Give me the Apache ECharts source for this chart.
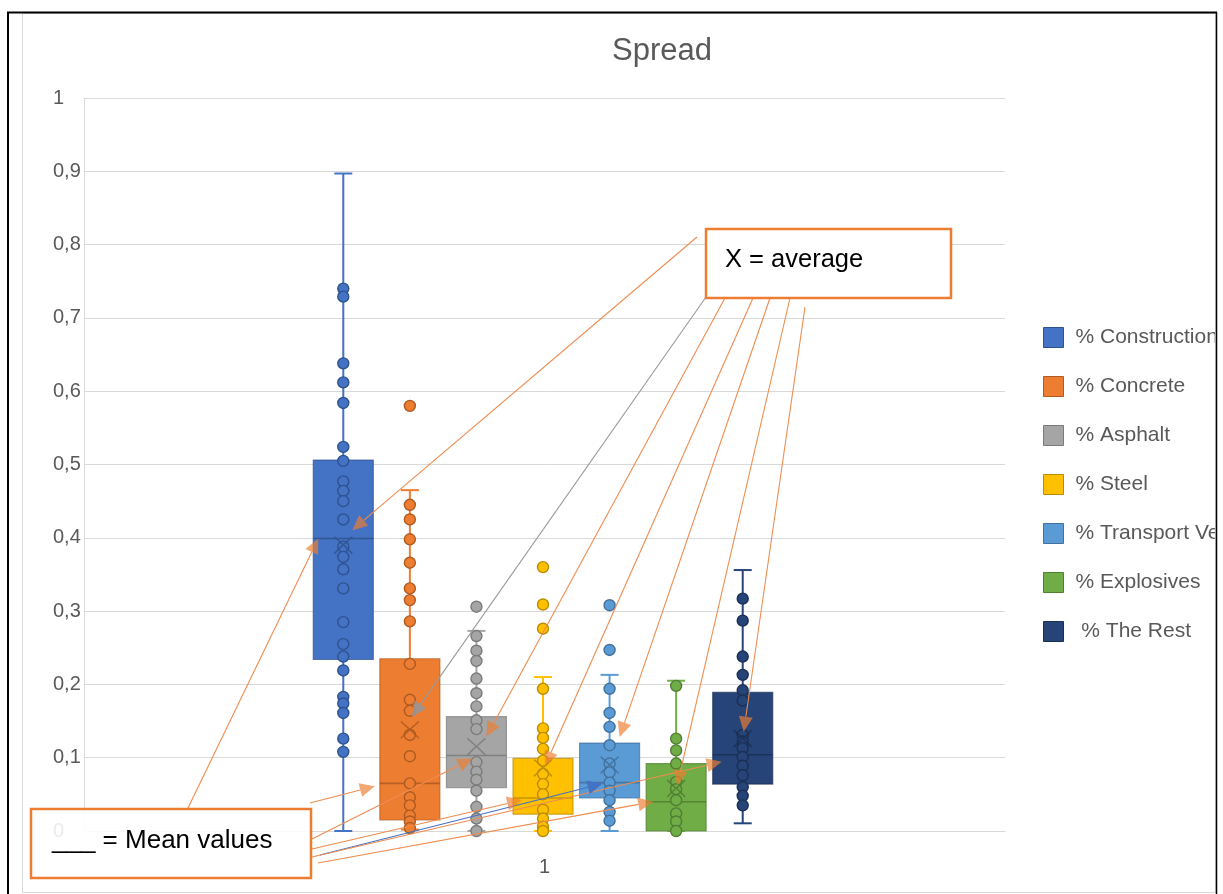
<!DOCTYPE html>
<html><head><meta charset="utf-8">
<script src="https://cdn.jsdelivr.net/npm/echarts@6/dist/echarts.min.js"></script>
<style>html,body{margin:0;padding:0;background:#fff}#c{width:1223px;height:894px}</style>
</head><body><div id="c"></div>
<script>
// ---------------- data ----------------
const xCategory = ['1'];
const categories = ['% Construction', '% Concrete', '% Asphalt', '% Steel', '% Transport Vehicles', '% Explosives', ' % The Rest'];
const yTickLabels = ['0', '0,1', '0,2', '0,3', '0,4', '0,5', '0,6', '0,7', '0,8', '0,9', '1'];

const whiskerMin = [0, 0.002, 0, 0, 0, 0, 0.0105];
const quartile1  = [0.234, 0.015, 0.059, 0.023, 0.045, 0, 0.064];
const medians    = [0.399, 0.065, 0.103, 0.045, 0.066, 0.040, 0.104];
const quartile3  = [0.506, 0.235, 0.156, 0.099, 0.120, 0.092, 0.189];
const whiskerMax = [0.897, 0.465, 0.273, 0.210, 0.213, 0.205, 0.356];
const means      = [0.390, 0.138, 0.115, 0.086, 0.090, 0.058, 0.126];

const ptsConstruction = [0.740, 0.729, 0.638, 0.612, 0.584, 0.524, 0.505, 0.477, 0.464, 0.450, 0.425, 0.388, 0.374, 0.357, 0.331, 0.285, 0.255, 0.238, 0.219, 0.183, 0.174, 0.161, 0.126, 0.108];
const ptsConcrete = [0.580, 0.445, 0.425, 0.398, 0.366, 0.331, 0.315, 0.286, 0.228, 0.179, 0.164, 0.131, 0.102, 0.065, 0.046, 0.035, 0.021, 0.013, 0.004];
const ptsAsphalt = [0.306, 0.266, 0.246, 0.232, 0.208, 0.188, 0.170, 0.151, 0.139, 0.094, 0.081, 0.070, 0.055, 0.033, 0.017, 0];
const ptsSteel = [0.360, 0.309, 0.276, 0.194, 0.140, 0.127, 0.112, 0.096, 0.078, 0.064, 0.050, 0.029, 0.017, 0.006, 0];
const ptsTransport = [0.308, 0.247, 0.194, 0.161, 0.142, 0.117, 0.092, 0.080, 0.066, 0.055, 0.042, 0.026, 0.014];
const ptsExplosives = [0.198, 0.126, 0.110, 0.092, 0.067, 0.057, 0.042, 0.024, 0.013, 0];
const ptsRest = [0.317, 0.287, 0.238, 0.213, 0.192, 0.178, 0.131, 0.122, 0.113, 0.101, 0.089, 0.076, 0.060, 0.048, 0.035];
const points = [ptsConstruction, ptsConcrete, ptsAsphalt, ptsSteel, ptsTransport, ptsExplosives, ptsRest];

// ---------------- styles ----------------
const palette = ['#4472C4', '#ED7D31', '#A5A5A5', '#FFC000', '#5B9BD5', '#70AD47', '#264478'];
const darks   = ['#2F528F', '#AE5A21', '#7B7B7B', '#BC8C00', '#41719C', '#507E32', '#1A2F54'];
const FONT = '"Liberation Sans", Arial, sans-serif';
const TXT = '#595959';
const GRIDC = '#D9D9D9';

const chart = echarts.init(document.getElementById('c'), null, {renderer: 'canvas'});

function makeRender(i) {
  return function (params, api) {
    const x = api.value(0);
    const p = k => api.coord([x, api.value(k)]);
    const pMin = p(1), pQ1 = p(2), pMed = p(3), pQ3 = p(4), pMax = p(5);
    const cx = pMin[0], bw = 60, cw = 9;
    const ls = {stroke: palette[i], lineWidth: 2};
    return {type: 'group', children: [
      {type: 'line', shape: {x1: cx, y1: pMax[1], x2: cx, y2: pQ3[1]}, style: ls},
      {type: 'line', shape: {x1: cx, y1: pQ1[1], x2: cx, y2: pMin[1]}, style: ls},
      {type: 'line', shape: {x1: cx - cw, y1: pMax[1], x2: cx + cw, y2: pMax[1]}, style: ls},
      {type: 'line', shape: {x1: cx - cw, y1: pMin[1], x2: cx + cw, y2: pMin[1]}, style: ls},
      {type: 'rect', shape: {x: cx - bw / 2, y: pQ3[1], width: bw, height: Math.max(pQ1[1] - pQ3[1], 0)},
        style: {fill: palette[i], stroke: darks[i], lineWidth: 1.2, strokeOpacity: 0.7}},
      {type: 'line', shape: {x1: cx - bw / 2, y1: pMed[1], x2: cx + bw / 2, y2: pMed[1]},
        style: {stroke: darks[i], lineWidth: 1.6, opacity: 0.85}}
    ]};
  };
}

const xPath = 'path://M1,0 L10,8.6 L19,0 L20,1.3 L11.3,9.6 L20,18.7 L19,20 L10,10.6 L1,20 L0,18.7 L8.7,9.6 L0,1.3 Z';

const series = [];
categories.forEach((name, i) => {
  series.push({
    type: 'custom', name, xAxisIndex: 1, yAxisIndex: 1, z: 2, silent: true,
    itemStyle: {color: palette[i]},
    encode: {x: 0, y: [1, 2, 3, 4, 5]},
    data: [[i, whiskerMin[i], quartile1[i], medians[i], quartile3[i], whiskerMax[i]]],
    renderItem: makeRender(i)
  });
  series.push({
    type: 'scatter', name, xAxisIndex: 1, yAxisIndex: 1, z: 3, silent: true, clip: true,
    symbol: 'circle', symbolSize: 11,
    itemStyle: {color: palette[i], borderColor: darks[i], borderWidth: 1.4, opacity: 1},
    data: points[i].map(v => [i, v])
  });
  series.push({
    type: 'scatter', name, xAxisIndex: 1, yAxisIndex: 1, z: 4, silent: true,
    symbol: xPath, symbolSize: [19, 18],
    itemStyle: {color: darks[i], opacity: 0.85},
    data: [[i, means[i]]]
  });
});

const option = {
  backgroundColor: '#fff',
  animation: false,
  title: {
    text: 'Spread', left: 657, top: 31, textAlign: 'center',
    textStyle: {fontFamily: FONT, fontSize: 31, fontWeight: 'normal', color: TXT}
  },
  legend: {
    orient: 'vertical', left: 1043, top: 327, padding: 0,
    itemWidth: 20, itemHeight: 20, itemGap: 28, selectedMode: false,
    textStyle: {fontFamily: FONT, fontSize: 21, lineHeight: 20, color: TXT, padding: [0, 0, 0, 7]},
    data: categories.map((n, i) => ({name: n, icon: 'rect',
      itemStyle: {color: palette[i], borderColor: darks[i], borderWidth: 1}}))
  },
  grid: [
    {left: 84, top: 98, width: 921, height: 733, containLabel: false},
    {left: 310, top: 98, width: 466, height: 733, containLabel: false}
  ],
  xAxis: [
    {type: 'category', gridIndex: 0, data: xCategory,
      axisLine: {lineStyle: {color: GRIDC, width: 1}}, axisTick: {show: false},
      axisLabel: {color: TXT, fontFamily: FONT, fontSize: 20, margin: 26}},
    {type: 'category', gridIndex: 1, data: categories, show: false}
  ],
  yAxis: [
    {type: 'value', gridIndex: 0, min: 0, max: 1, interval: 0.1,
      axisLine: {show: true, lineStyle: {color: GRIDC}}, axisTick: {show: false},
      splitLine: {lineStyle: {color: GRIDC, width: 1}},
      axisLabel: {color: TXT, fontFamily: FONT, fontSize: 20, align: 'left', margin: 31,
        formatter: v => yTickLabels[Math.round(v * 10)]}},
    {type: 'value', gridIndex: 1, min: 0, max: 1, show: false}
  ],
  series
};
chart.setOption(option);

// ---------------- annotations ----------------
const ORANGE_LINE = '#EF8C4F';
const ORANGE_HEAD = 'rgba(237,125,49,0.68)';
const statOf = {mean: means, median: medians};
// start points (px) of the callout lines; targets come from the data
const avgArrows = [
  {from: [697, 237], s: 0, stat: 'mean', off: [9, -15], line: ORANGE_LINE, head: ORANGE_HEAD},
  {from: [706, 297], s: 1, stat: 'mean', off: [2, -13], line: '#9A9A9A', head: 'rgba(150,150,150,0.9)'},
  {from: [725, 298], s: 2, stat: 'mean', off: [10, -10], line: ORANGE_LINE, head: ORANGE_HEAD},
  {from: [753, 298], s: 3, stat: 'mean', off: [2, -2], line: ORANGE_LINE, head: ORANGE_HEAD},
  {from: [770, 298], s: 4, stat: 'mean', off: [10, -28], line: ORANGE_LINE, head: ORANGE_HEAD},
  {from: [790, 298], s: 5, stat: 'mean', off: [1, -3], line: ORANGE_LINE, head: ORANGE_HEAD},
  {from: [805, 307], s: 6, stat: 'mean', off: [1, -7], line: ORANGE_LINE, head: ORANGE_HEAD}
];
const medArrows = [
  {from: [188, 808], s: 0, stat: 'median', off: [-25, 0], line: ORANGE_LINE, head: ORANGE_HEAD},
  {from: [310, 803], s: 1, stat: 'median', off: [-35, 3], line: ORANGE_LINE, head: ORANGE_HEAD},
  {from: [312, 839], s: 2, stat: 'median', off: [-4, 3], line: ORANGE_LINE, head: ORANGE_HEAD},
  {from: [312, 849], s: 3, stat: 'median', off: [-21, 2], line: ORANGE_LINE, head: ORANGE_HEAD},
  {from: [320, 855], s: 4, stat: 'median', off: [-7, 1], line: '#4472C4', head: '#4472C4'},
  {from: [312, 857], s: 6, stat: 'median', off: [-21, 7], line: ORANGE_LINE, head: ORANGE_HEAD},
  {from: [318, 863], s: 5, stat: 'median', off: [-23, 0], line: ORANGE_LINE, head: ORANGE_HEAD}
];

function arrow(a) {
  const c = chart.convertToPixel({xAxisIndex: 1, yAxisIndex: 1}, [a.s, statOf[a.stat][a.s]]);
  const tip = [c[0] + a.off[0], c[1] + a.off[1]];
  const dx = tip[0] - a.from[0], dy = tip[1] - a.from[1];
  const len = Math.hypot(dx, dy), ux = dx / len, uy = dy / len;
  const L = 15, W = 7;
  const bx = tip[0] - ux * L, by = tip[1] - uy * L, nx = -uy, ny = ux;
  return [
    {type: 'line', z: 100, silent: true, shape: {x1: a.from[0], y1: a.from[1], x2: bx, y2: by},
      style: {stroke: a.line, lineWidth: 1.1}},
    {type: 'polygon', z: 101, silent: true,
      shape: {points: [tip, [bx + nx * W, by + ny * W], [bx - nx * W, by - ny * W]]},
      style: {fill: a.head}}
  ];
}

const g = [];
// chart frame
g.push({type: 'rect', z: 90, silent: true, shape: {x: 22.5, y: 13.5, width: 1193, height: 879}, style: {fill: null, stroke: GRIDC, lineWidth: 1}});
avgArrows.forEach(a => g.push(...arrow(a)));
medArrows.forEach(a => g.push(...arrow(a)));
// callout boxes
g.push({type: 'rect', z: 110, silent: true, shape: {x: 706, y: 229, width: 245, height: 69},
  style: {fill: '#fff', stroke: '#ED7D31', lineWidth: 2.5}});
g.push({type: 'text', z: 111, silent: true, x: 725, y: 260,
  style: {text: 'X = average', fill: '#000', font: '25.5px ' + FONT, verticalAlign: 'middle'}});
g.push({type: 'rect', z: 110, silent: true, shape: {x: 31, y: 809, width: 280, height: 69},
  style: {fill: 'rgba(255,255,255,0.88)', stroke: '#ED7D31', lineWidth: 2.5}});
g.push({type: 'text', z: 111, silent: true, x: 52, y: 841,
  style: {text: '___ = Mean values', fill: '#000', font: '26px ' + FONT, verticalAlign: 'middle'}});
// outer frame (clips the legend text at the right edge)
g.push({type: 'rect', z: 200, silent: true, shape: {x: 1217, y: 0, width: 10, height: 894}, style: {fill: '#fff'}});
g.push({type: 'line', z: 201, silent: true, shape: {x1: 7, y1: 12.5, x2: 1217, y2: 12.5}, style: {stroke: '#000', lineWidth: 2}});
g.push({type: 'line', z: 201, silent: true, shape: {x1: 8, y1: 12, x2: 8, y2: 894}, style: {stroke: '#000', lineWidth: 2}});
g.push({type: 'line', z: 201, silent: true, shape: {x1: 1216.5, y1: 12, x2: 1216.5, y2: 894}, style: {stroke: '#000', lineWidth: 1.5}});
chart.setOption({graphic: g});
</script></body></html>
